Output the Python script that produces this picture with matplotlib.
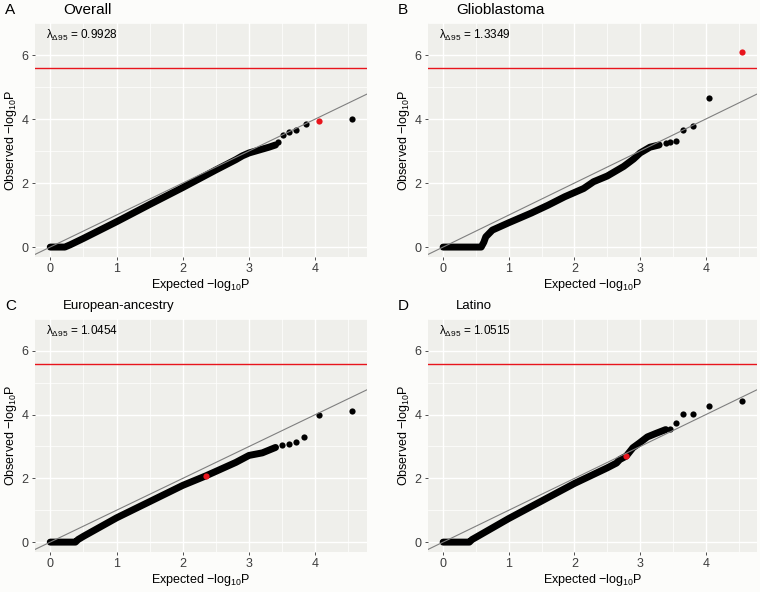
import matplotlib
matplotlib.use("Agg")
import matplotlib.pyplot as plt
from matplotlib.ticker import MultipleLocator

plt.rcParams['font.family'] = ['Liberation Sans', 'DejaVu Sans']
plt.rcParams['mathtext.fontset'] = 'custom'
plt.rcParams['mathtext.rm'] = 'Liberation Sans'
plt.rcParams['mathtext.it'] = 'Liberation Sans:italic'
plt.rcParams['mathtext.bf'] = 'Liberation Sans:bold'

# ---- data ----
panel_letters = ["A", "B", "C", "D"]
panel_titles = ["Overall", "Glioblastoma", "European-ancestry", "Latino"]
lambda_values = ["0.9928", "1.3349", "1.0454", "1.0515"]
sig_line = 5.6

# dense body of the QQ curves (expected, observed)
A_body_exp = [0.0, 0.22, 0.30, 0.50, 1.00, 1.50, 2.00, 2.50, 2.80, 2.90, 3.00, 3.10, 3.20, 3.30, 3.40]
A_body_obs = [0.0, 0.00, 0.07, 0.27, 0.79, 1.33, 1.86, 2.41, 2.73, 2.85, 2.94, 3.00, 3.06, 3.12, 3.19]
A_tail_exp = [3.43, 3.51, 3.60, 3.71, 3.86, 4.55]
A_tail_obs = [3.29, 3.49, 3.59, 3.65, 3.83, 4.01]
A_red = (4.05, 3.93)

B_body_exp = [0.0, 0.58, 0.62, 0.65, 0.75, 1.00, 1.34, 1.60, 1.85, 2.14, 2.29, 2.50, 2.75, 2.90, 3.00, 3.15, 3.29]
B_body_obs = [0.0, 0.00, 0.15, 0.32, 0.53, 0.76, 1.06, 1.31, 1.57, 1.83, 2.04, 2.22, 2.52, 2.75, 2.94, 3.12, 3.19]
B_tail_exp = [3.39, 3.46, 3.54, 3.65, 3.80, 4.05]
B_tail_obs = [3.25, 3.28, 3.30, 3.67, 3.79, 4.66]
B_red = (4.55, 6.08)

C_body_exp = [0.0, 0.38, 0.42, 0.50, 1.00, 1.50, 2.00, 2.35, 2.50, 2.80, 3.00, 3.20, 3.40]
C_body_obs = [0.0, 0.00, 0.08, 0.18, 0.76, 1.27, 1.78, 2.08, 2.22, 2.50, 2.72, 2.80, 2.97]
C_tail_exp = [3.50, 3.60, 3.71, 3.83, 4.05, 4.55]
C_tail_obs = [3.04, 3.09, 3.15, 3.30, 3.99, 4.10]
C_red = (2.35, 2.08)

D_body_exp = [0.0, 0.40, 0.44, 0.50, 1.00, 1.50, 2.00, 2.50, 2.64, 2.69, 2.79, 2.89, 2.99, 3.11, 3.24, 3.39]
D_body_obs = [0.0, 0.00, 0.08, 0.15, 0.74, 1.29, 1.84, 2.33, 2.48, 2.59, 2.70, 2.96, 3.11, 3.30, 3.41, 3.53]
D_tail_exp = [3.45, 3.54, 3.65, 3.80, 4.05, 4.55]
D_tail_obs = [3.55, 3.74, 4.02, 4.03, 4.28, 4.42]
D_red = (2.79, 2.70)

bodies = [(A_body_exp, A_body_obs), (B_body_exp, B_body_obs),
          (C_body_exp, C_body_obs), (D_body_exp, D_body_obs)]
tails = [(A_tail_exp, A_tail_obs), (B_tail_exp, B_tail_obs),
         (C_tail_exp, C_tail_obs), (D_tail_exp, D_tail_obs)]
reds = [A_red, B_red, C_red, D_red]

# ---- figure ----
W, H = 760, 592
fig = plt.figure(figsize=(W / 100, H / 100), dpi=100)
fig.patch.set_facecolor('#FCFCFA')

# axes rectangles in pixels (left, top, right, bottom)
rects = [(35, 23, 367, 257), (428, 23, 757, 257),
         (35, 319, 367, 552), (428, 319, 757, 552)]

panel_bg = '#EFEFEB'
for i, (l, t, r, b) in enumerate(rects):
    ax = fig.add_axes([l / W, 1 - b / H, (r - l) / W, (b - t) / H])
    ax.set_facecolor(panel_bg)
    for s in ax.spines.values():
        s.set_visible(False)
    ax.set_xlim(-0.23, 4.78)
    ax.set_ylim(-0.31, 7.0)
    ax.xaxis.set_major_locator(MultipleLocator(1))
    ax.xaxis.set_minor_locator(MultipleLocator(0.5))
    ax.yaxis.set_major_locator(MultipleLocator(2))
    ax.yaxis.set_minor_locator(MultipleLocator(1))
    ax.grid(True, which='major', color='white', lw=1.0)
    ax.grid(True, which='minor', color='white', lw=0.5)
    ax.set_axisbelow(True)
    ax.tick_params(which='major', length=2.5, width=0.6, color='#333333',
                   labelsize=9, labelcolor='#3C3C3C', pad=2)
    ax.tick_params(which='minor', length=0)

    bx, by = bodies[i]
    ax.plot(bx, by, color='black', lw=5.0, solid_capstyle='round',
            solid_joinstyle='round', zorder=3)
    tx, ty = tails[i]
    ax.scatter(tx, ty, s=20, color='black', linewidths=0, zorder=4)
    ax.scatter([reds[i][0]], [reds[i][1]], s=20, color='#E8141C',
               linewidths=0, zorder=5)
    ax.axline((0, 0), slope=1, color='#7F7F7F', lw=0.8, zorder=6)
    ax.axhline(sig_line, color='#E8141C', lw=1.0, zorder=6)

    ax.text(0.033, 0.948, 'λ$_{\\Delta 95}$ = ' + lambda_values[i],
            transform=ax.transAxes, fontsize=8.5, va='center', ha='left')
    ax.set_xlabel('Expected $-$log$_{10}$P', fontsize=9, labelpad=1)
    ax.set_ylabel('Observed $-$log$_{10}$P', fontsize=9, labelpad=2)

    # letter + title
    fs_title = 11 if i < 2 else 9.5
    fig.text((l - 30) / W, 1 - (t - 13) / H, panel_letters[i], fontsize=11,
             ha='left', va='center')
    fig.text((l + 28) / W, 1 - (t - 13) / H, panel_titles[i], fontsize=fs_title,
             ha='left', va='center')

fig.savefig('out.png', dpi=100, facecolor=fig.get_facecolor())
